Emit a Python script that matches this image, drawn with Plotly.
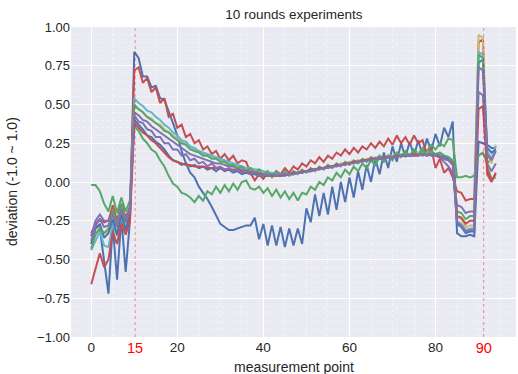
import plotly.graph_objects as go

# measurement point index 0..94
points = list(range(95))

blue_a = [-0.35, -0.28, -0.30, -0.50, -0.72, -0.28, -0.63, -0.23, -0.58, -0.25,
          0.84, 0.80, 0.68, 0.68, 0.61, 0.62, 0.54, 0.53, 0.46, 0.38,
          0.30, 0.20, 0.12, 0.06, 0.03, -0.03, -0.07, -0.11, -0.16, -0.22,
          -0.27, -0.29, -0.31, -0.31, -0.30, -0.29, -0.28, -0.28, -0.23, -0.37,
          -0.27, -0.41, -0.28, -0.41, -0.29, -0.42, -0.30, -0.41, -0.30, -0.40,
          -0.17, -0.26, -0.08, -0.22, -0.07, -0.21, -0.03, -0.18, 0.00, -0.13,
          0.03, -0.10, 0.07, -0.05, 0.11, 0.00, 0.15, 0.05, 0.19, 0.09,
          0.23, 0.13, 0.25, 0.16, 0.26, 0.17, 0.27, 0.17, 0.28, 0.20,
          0.31, 0.23, 0.35, 0.29, 0.39,
          -0.33, -0.35, -0.35, -0.34, -0.35,
          0.26, 0.25, 0.24, 0.22, 0.22]

green_a = [-0.02, -0.02, -0.06, -0.14, -0.19, -0.09, -0.20, -0.10, -0.19, -0.12,
           0.36, 0.33, 0.28, 0.25, 0.21, 0.19, 0.14, 0.10, 0.04, -0.01,
           -0.03, -0.07, -0.08, -0.10, -0.13, -0.09, -0.12, -0.06, -0.08, -0.03,
           -0.07, -0.02, -0.06, -0.01, -0.05, 0.00, 0.01, -0.04, -0.05, -0.03,
           -0.07, -0.04, -0.09, -0.05, -0.10, -0.06, -0.11, -0.07, -0.12, -0.07,
           -0.08, -0.03, -0.05, 0.00, -0.02, 0.03, 0.01, 0.06, 0.03, 0.08,
           0.05, 0.10, 0.07, 0.12, 0.09, 0.14, 0.11, 0.16, 0.13, 0.17,
           0.14, 0.19, 0.16, 0.20, 0.17, 0.21, 0.18, 0.22, 0.20, 0.24,
           0.21, 0.25, 0.23, 0.28, 0.27,
           0.03, 0.03, 0.04, 0.03, 0.04,
           0.17, 0.19, 0.12, 0.15, 0.20]

red_a = [-0.33, -0.27, -0.24, -0.26, -0.25, -0.15, -0.25, -0.14, -0.23, -0.16,
         0.72, 0.74, 0.64, 0.67, 0.58, 0.61, 0.51, 0.54, 0.42, 0.44,
         0.35, 0.37, 0.29, 0.31, 0.25, 0.27, 0.21, 0.23, 0.18, 0.20,
         0.15, 0.18, 0.14, 0.17, 0.12, 0.14, 0.13, 0.06, 0.01, 0.05,
         0.02, 0.06, 0.04, 0.07, 0.05, 0.09, 0.06, 0.10, 0.08, 0.12,
         0.10, 0.14, 0.12, 0.16, 0.13, 0.17, 0.15, 0.19, 0.17, 0.21,
         0.18, 0.22, 0.19, 0.23, 0.21, 0.25, 0.22, 0.26, 0.23, 0.28,
         0.24, 0.30, 0.25, 0.29, 0.24, 0.30, 0.25, 0.27, 0.17, 0.22,
         0.09, 0.15, 0.06, 0.09, 0.03,
         -0.06, -0.07, -0.12, -0.11, -0.11,
         0.90, 0.92, 0.05, 0.00, 0.06]

purple_a = [-0.35, -0.25, -0.21, -0.25, -0.25, -0.20, -0.27, -0.17, -0.24, -0.16,
            0.45, 0.43, 0.40, 0.39, 0.36, 0.34, 0.32, 0.30, 0.28, 0.26,
            0.24, 0.22, 0.20, 0.18, 0.17, 0.16, 0.15, 0.14, 0.13, 0.12,
            0.12, 0.11, 0.10, 0.10, 0.09, 0.08, 0.08, 0.07, 0.07, 0.06,
            0.06, 0.05, 0.05, 0.05, 0.05, 0.05, 0.05, 0.06, 0.06, 0.07,
            0.07, 0.08, 0.08, 0.09, 0.09, 0.10, 0.10, 0.11, 0.11, 0.12,
            0.12, 0.13, 0.13, 0.14, 0.14, 0.14, 0.15, 0.15, 0.16, 0.16,
            0.16, 0.16, 0.17, 0.17, 0.17, 0.17, 0.18, 0.17, 0.18, 0.17,
            0.17, 0.16, 0.13, 0.10, 0.06,
            -0.15, -0.16, -0.20, -0.19, -0.19,
            0.58, 0.56, 0.12, 0.07, 0.12]

yellow_a = [-0.40, -0.33, -0.29, -0.33, -0.32, -0.22, -0.30, -0.20, -0.28, -0.20,
            0.49, 0.47, 0.45, 0.42, 0.41, 0.38, 0.37, 0.34, 0.32, 0.30,
            0.28, 0.26, 0.24, 0.22, 0.21, 0.20, 0.18, 0.17, 0.16, 0.15,
            0.14, 0.13, 0.12, 0.11, 0.10, 0.10, 0.09, 0.08, 0.08, 0.07,
            0.06, 0.06, 0.05, 0.05, 0.05, 0.05, 0.05, 0.06, 0.06, 0.06,
            0.07, 0.08, 0.08, 0.09, 0.09, 0.10, 0.10, 0.11, 0.12, 0.12,
            0.13, 0.13, 0.14, 0.14, 0.15, 0.15, 0.16, 0.16, 0.16, 0.17,
            0.17, 0.17, 0.18, 0.18, 0.18, 0.18, 0.19, 0.18, 0.19, 0.18,
            0.18, 0.18, 0.17, 0.16, 0.14,
            -0.23, -0.24, -0.29, -0.28, -0.28,
            0.95, 0.93, 0.18, 0.12, 0.24]

cyan_a = [-0.44, -0.38, -0.32, -0.41, -0.42, -0.27, -0.35, -0.23, -0.32, -0.22,
          0.54, 0.51, 0.49, 0.46, 0.45, 0.42, 0.40, 0.37, 0.35, 0.32,
          0.30, 0.27, 0.26, 0.23, 0.22, 0.20, 0.19, 0.18, 0.17, 0.16,
          0.15, 0.14, 0.13, 0.12, 0.11, 0.10, 0.09, 0.09, 0.08, 0.08,
          0.07, 0.06, 0.06, 0.05, 0.05, 0.05, 0.05, 0.05, 0.06, 0.06,
          0.07, 0.07, 0.08, 0.08, 0.09, 0.09, 0.10, 0.11, 0.11, 0.12,
          0.12, 0.13, 0.13, 0.14, 0.14, 0.15, 0.15, 0.16, 0.16, 0.16,
          0.17, 0.17, 0.17, 0.18, 0.18, 0.18, 0.18, 0.19, 0.18, 0.19,
          0.18, 0.19, 0.17, 0.16, 0.14,
          -0.25, -0.27, -0.31, -0.30, -0.30,
          0.84, 0.82, 0.20, 0.15, 0.23]

blue_b = [-0.40, -0.30, -0.27, -0.36, -0.33, -0.24, -0.34, -0.21, -0.31, -0.20,
          0.40, 0.37, 0.34, 0.30, 0.29, 0.26, 0.24, 0.21, 0.17, 0.14,
          0.13, 0.11, 0.12, 0.10, 0.11, 0.09, 0.10, 0.08, 0.09, 0.07,
          0.09, 0.07, 0.08, 0.06, 0.07, 0.05, 0.06, 0.05, 0.05, 0.04,
          0.04, 0.04, 0.04, 0.04, 0.04, 0.04, 0.05, 0.05, 0.06, 0.06,
          0.07, 0.07, 0.08, 0.09, 0.09, 0.10, 0.10, 0.11, 0.11, 0.12,
          0.12, 0.13, 0.13, 0.14, 0.14, 0.15, 0.15, 0.15, 0.16, 0.16,
          0.16, 0.17, 0.17, 0.17, 0.17, 0.18, 0.18, 0.18, 0.18, 0.18,
          0.18, 0.17, 0.16, 0.15, 0.13,
          -0.27, -0.29, -0.33, -0.32, -0.32,
          0.77, 0.79, 0.22, 0.19, 0.21]

green_b = [-0.43, -0.34, -0.30, -0.33, -0.30, -0.18, -0.28, -0.14, -0.26, -0.17,
           0.50, 0.47, 0.45, 0.42, 0.40, 0.38, 0.36, 0.33, 0.32, 0.29,
           0.27, 0.25, 0.24, 0.21, 0.20, 0.19, 0.17, 0.17, 0.15, 0.15,
           0.13, 0.13, 0.11, 0.11, 0.09, 0.10, 0.07, 0.09, 0.06, 0.08,
           0.04, 0.07, 0.03, 0.07, 0.04, 0.07, 0.04, 0.07, 0.05, 0.08,
           0.06, 0.09, 0.07, 0.10, 0.08, 0.11, 0.09, 0.12, 0.10, 0.13,
           0.11, 0.14, 0.12, 0.15, 0.13, 0.16, 0.14, 0.17, 0.15, 0.17,
           0.16, 0.18, 0.17, 0.19, 0.17, 0.19, 0.18, 0.20, 0.18, 0.20,
           0.18, 0.19, 0.17, 0.16, 0.13,
           -0.19, -0.20, -0.24, -0.22, -0.22,
           0.82, 0.80, 0.10, 0.02, 0.03]

red_b = [-0.66, -0.56, -0.46, -0.55, -0.50, -0.32, -0.40, -0.27, -0.34, -0.25,
         0.38, 0.35, 0.32, 0.30, 0.27, 0.25, 0.22, 0.19, 0.16, 0.14,
         0.13, 0.12, 0.11, 0.11, 0.10, 0.10, 0.10, 0.09, 0.09, 0.09,
         0.09, 0.08, 0.08, 0.08, 0.08, 0.07, 0.07, 0.06, 0.06, 0.05,
         0.05, 0.04, 0.04, 0.04, 0.04, 0.05, 0.05, 0.06, 0.06, 0.07,
         0.07, 0.08, 0.08, 0.09, 0.09, 0.10, 0.10, 0.11, 0.11, 0.12,
         0.12, 0.13, 0.13, 0.14, 0.14, 0.15, 0.15, 0.15, 0.16, 0.16,
         0.16, 0.17, 0.17, 0.17, 0.17, 0.18, 0.17, 0.18, 0.17, 0.18,
         0.17, 0.16, 0.15, 0.14, 0.12,
         -0.22, -0.23, -0.27, -0.25, -0.25,
         0.47, 0.49, 0.08, 0.01, 0.05]

purple_b = [-0.38, -0.28, -0.24, -0.29, -0.28, -0.21, -0.29, -0.18, -0.26, -0.18,
            0.43, 0.39, 0.38, 0.34, 0.33, 0.29, 0.29, 0.25, 0.25, 0.21,
            0.21, 0.17, 0.18, 0.14, 0.15, 0.12, 0.13, 0.10, 0.12, 0.09,
            0.10, 0.08, 0.09, 0.07, 0.08, 0.06, 0.07, 0.05, 0.06, 0.04,
            0.05, 0.04, 0.05, 0.04, 0.05, 0.05, 0.05, 0.05, 0.06, 0.06,
            0.07, 0.07, 0.08, 0.08, 0.09, 0.09, 0.10, 0.10, 0.11, 0.11,
            0.12, 0.12, 0.13, 0.13, 0.14, 0.14, 0.15, 0.15, 0.15, 0.16,
            0.16, 0.16, 0.17, 0.17, 0.17, 0.17, 0.17, 0.18, 0.17, 0.18,
            0.17, 0.17, 0.15, 0.14, 0.11,
            -0.26, -0.28, -0.32, -0.31, -0.31,
            0.74, 0.72, 0.18, 0.14, 0.20]

series = [blue_a, green_a, red_a, purple_a, yellow_a, cyan_a,
          blue_b, green_b, red_b, purple_b]
palette = ["#4C72B0", "#55A868", "#C44E52", "#8172B2", "#CCB974", "#64B5CD"]

x_ticks = [0, 20, 40, 60, 80]
y_ticks = [-1.0, -0.75, -0.5, -0.25, 0.0, 0.25, 0.5, 0.75, 1.0]
marker_pos = [10.2, 91.2]
marker_labels = ["15", "90"]

FONT = "Liberation Sans, Arial, sans-serif"
TXT = "#262626"

fig = go.Figure()
for i, s in enumerate(series):
    fig.add_trace(go.Scatter(x=points, y=s, mode="lines",
                             line=dict(color=palette[i % len(palette)], width=2),
                             showlegend=False, hoverinfo="skip"))

# invisible trace on the secondary axis so it is drawn
fig.add_trace(go.Scatter(x=marker_pos, y=[None, None], xaxis="x2", mode="lines",
                         showlegend=False, hoverinfo="skip"))

for xv in marker_pos:
    fig.add_shape(type="line", xref="x", yref="paper", x0=xv, x1=xv, y0=0, y1=1,
                  line=dict(color="rgba(255,0,0,0.55)", width=0.8, dash="dot"), layer="above")

xr = [-4.7, 98.7]
fig.update_layout(
    width=518, height=374,
    margin=dict(l=71, r=2, t=27, b=37),
    paper_bgcolor="white", plot_bgcolor="#EAEAF2",
    font=dict(family=FONT, size=13, color=TXT),
    title=dict(text="10 rounds experiments", x=0.5675, xanchor="center",
               y=0.962, yanchor="middle", font=dict(size=13.5, color=TXT)),
    xaxis=dict(range=xr, tickvals=x_ticks, ticktext=[str(v) for v in x_ticks],
               showgrid=True, gridcolor="white", gridwidth=1.2, zeroline=False,
               showline=False, ticks="", tickfont=dict(size=13.5, color=TXT),
               minor=dict(dtick=5, tick0=0, showgrid=True, gridcolor="#F3F3F8",
                          gridwidth=0.6, griddash="dot"),
               automargin=False),
    xaxis2=dict(range=xr, overlaying="x", side="bottom", tickvals=marker_pos,
                ticktext=marker_labels, showgrid=False, zeroline=False,
                ticks="", tickfont=dict(size=14.5, color="red"), automargin=False,
                showline=False),
    yaxis=dict(range=[-1.0, 1.0], tickvals=y_ticks, tickformat=".2f",
               showgrid=True, gridcolor="white", gridwidth=1.2, zeroline=False,
               showline=False, ticks="", tickfont=dict(size=13, color=TXT),
               minor=dict(dtick=0.05, showgrid=True, gridcolor="#F3F3F8",
                          gridwidth=0.6, griddash="dot"),
               automargin=False),
    annotations=[
        dict(text="measurement point", xref="paper", yref="paper", x=0.5, y=0,
             yshift=-20, xanchor="center", yanchor="top", showarrow=False,
             font=dict(size=14, color=TXT)),
        dict(text="deviation (-1.0 ~ 1.0)", xref="paper", yref="paper", x=0, y=0.5,
             xshift=-59, xanchor="center", yanchor="middle", textangle=-90,
             showarrow=False, font=dict(size=14, color=TXT)),
    ],
)

fig.write_html("out.html", config={"displayModeBar": False},
               post_script="document.body.style.margin='0';document.body.style.overflow='hidden';")
